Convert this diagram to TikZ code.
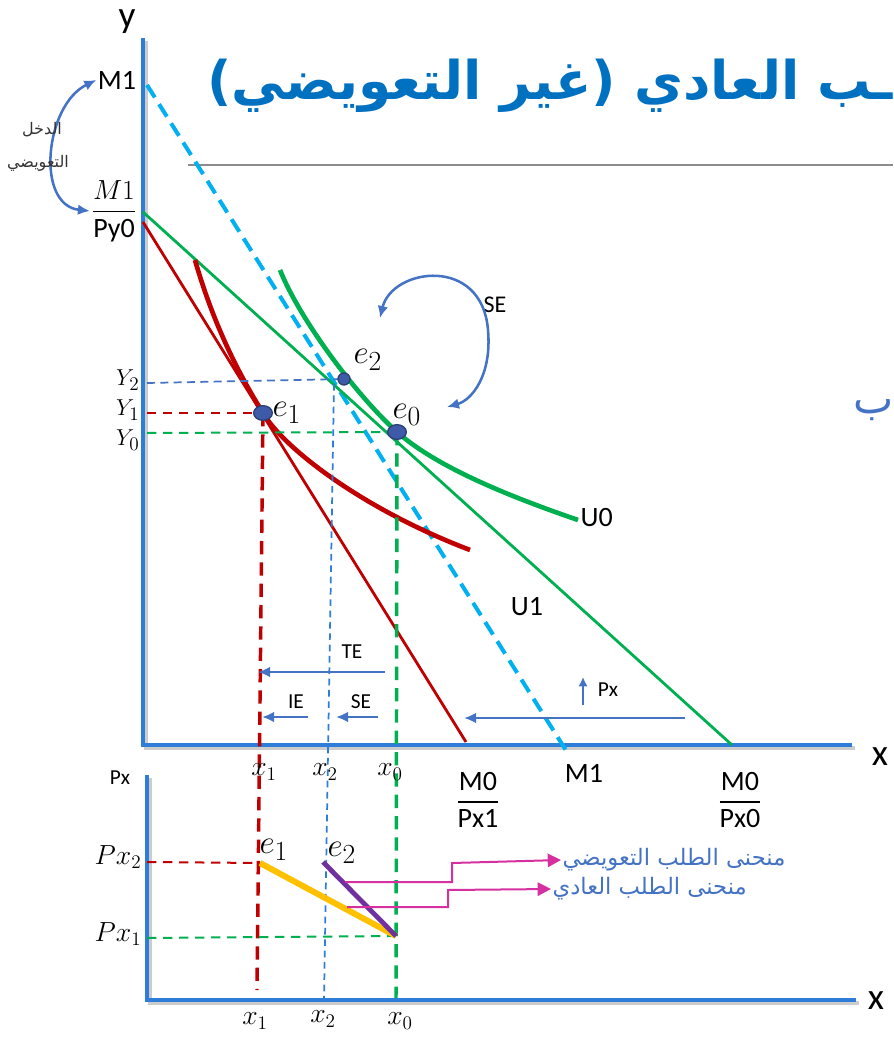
\documentclass[tikz,border=0pt]{standalone}
\usepackage{amsmath}
\usepackage{fontspec}
\setmainfont{Carlito}
\newfontfamily\arabicfont[Script=Arabic]{DejaVu Sans}
\TeXXeTstate=1
\usetikzlibrary{arrows.meta,shapes.geometric}

\definecolor{axisblue}{RGB}{46,125,216}
\definecolor{titleblue}{RGB}{0,112,192}
\definecolor{effblue}{RGB}{68,114,196}
\definecolor{dotblue}{RGB}{63,90,168}
\definecolor{bgreen}{RGB}{0,176,80}
\definecolor{bred}{RGB}{192,0,0}
\definecolor{mline}{RGB}{0,176,240}
\definecolor{gold}{RGB}{255,192,0}
\definecolor{purp}{RGB}{112,48,160}
\definecolor{pink}{RGB}{214,48,160}

\tikzset{
  axis/.style={axisblue,line width=3.6pt},
  axshadow/.style={black!20,line width=3.6pt},
  budget/.style={line width=2.1pt},
  icurve/.style={line width=3.5pt},
  guide/.style={line width=1.5pt,dash pattern=on 7pt off 5pt},
  vguide/.style={line width=2.6pt,dash pattern=on 10pt off 6pt},
  effarrow/.style={effblue,line width=1.9pt,-{Latex[length=9pt,width=8pt]}},
  dot/.style={ellipse,fill=dotblue,draw=dotblue!70!black,line width=1pt,inner sep=0pt,minimum width=14pt,minimum height=11pt},
  lbl/.style={font=\fontsize{16}{18}\selectfont,inner sep=1pt},
  biglbl/.style={font=\fontsize{21}{24}\selectfont,inner sep=1pt},
  mlbl/.style={font=\fontsize{21}{24}\selectfont,inner sep=1pt},
  elbl/.style={font=\fontsize{28}{30}\selectfont,inner sep=1pt},
  demand/.style={pink,line width=1.5pt,-{Triangle[length=10pt,width=10pt]}}
}

\begin{document}
\begin{tikzpicture}[x=0.75pt,y=-0.75pt]
\useasboundingbox (0,0) rectangle (893,1037);

% title
\node[titleblue,anchor=east,inner sep=0pt,font=\fontsize{40}{46}\selectfont] (title) at (893,86)
  {\arabicfont\bfseries\beginR ـب العادي (غير التعويضي)\endR};
\draw[black!45,line width=1.1pt] (188,165) -- (893,165);
\node[effblue,anchor=west,inner sep=0pt,font=\fontsize{32}{36}\selectfont] (cut) at (853,410) {\arabicfont\beginR ب\endR};

% key points
\coordinate (O) at (143,745);
\coordinate (ytop) at (143,38);
\coordinate (xend) at (852,745);
\coordinate (My0) at (143,212);
\coordinate (My1) at (143,222);
\coordinate (Mx0) at (732,745);
\coordinate (Mx1) at (466,742);
\coordinate (Mtop) at (147,85);
\coordinate (Mbot) at (567,752);

% upper axes
\draw[axshadow] ([shift={(3,3)}]ytop) -- ([shift={(3,3)}]O) -- ([shift={(3,3)}]xend);
\draw[axis] (ytop) -- (O) -- (xend);
\node[font=\fontsize{28}{30}\selectfont,inner sep=0pt] (ylab) at (127,22) {y};
\node[font=\fontsize{28}{30}\selectfont] (xlab) at (880,757) {x};

% budget lines
\draw[mline,line width=3pt,dash pattern=on 11pt off 6pt] (Mtop) -- (Mbot);
\draw[bgreen,budget] (My0) -- (Mx0);
\draw[bred,budget] (My1) -- (Mx1);

% equilibria
\coordinate (p0) at (397,432);
\coordinate (p1) at (263,413);
\coordinate (p2) at (344,379);

% indifference curves
\draw[bgreen,icurve] (280,270) .. controls (300,320) and (357,396) .. (p0)
  .. controls (440,470) and (520,500) .. (578,520);
\draw[bred,icurve] (195,260) .. controls (215,330) and (243,381) .. (p1)
  .. controls (283,447) and (360,508) .. (470,550);

% guide lines
\draw[effblue,line width=1.3pt,dash pattern=on 6pt off 4pt] (147,383) -- (p2);
\draw[bred,guide] (147,413) -- (p1);
\draw[bgreen,guide] (147,433) -- (p0);
\draw[axisblue,line width=1.3pt,dash pattern=on 5pt off 3.5pt] (334,384) -- (324,1000);
\draw[bred,vguide] (p1) -- (257,990);
\draw[bgreen,vguide] (p0) -- (396,1000);

\node[dot] (e0) at (p0) {};
\node[dot] (e1) at (p1) {};
\node[dot,minimum width=9pt,minimum height=9pt] (e2) at (p2) {};

% point labels
\node[elbl,anchor=west] (le2) at (352,360) {$e_2$};
\node[elbl,anchor=west] (le1) at (271,413) {$e_1$};
\node[elbl,anchor=west] (le0) at (391,415) {$e_0$};
\node[anchor=east,inner sep=1pt,font=\fontsize{19}{22}\selectfont] (Y2) at (141,380) {$Y_2$};
\node[anchor=east,inner sep=1pt,font=\fontsize{19}{22}\selectfont] (Y1) at (141,410) {$Y_1$};
\node[anchor=east,inner sep=1pt,font=\fontsize{19}{22}\selectfont] (Y0) at (141,440) {$Y_0$};
\node[biglbl,anchor=west] (U0) at (579,518) {U0};
\node[biglbl] (U1) at (527,607) {U1};

% intercept labels
\node[biglbl] (M1y) at (117,80) {M1};
\node[biglbl] (Py0) at (114,211) {$\dfrac{M1}{\text{Py0}}$};
\draw[effblue,line width=1.9pt,{Latex[length=9pt,width=8pt]}-{Latex[length=9pt,width=8pt]}]
  (M1y.west) .. controls (45,105) and (35,205) .. (Py0.west);
\node[font=\fontsize{12}{14}\selectfont,black!80] (inc1) at (42,130) {\arabicfont\beginR الدخل\endR};
\node[font=\fontsize{12}{14}\selectfont,black!80] (inc2) at (38,163) {\arabicfont\beginR التعويضي\endR};

\node[mlbl] (x1u) at (264,772) {$x_1$};
\node[mlbl] (x2u) at (325,772) {$x_2$};
\node[mlbl] (x0u) at (390,772) {$x_0$};
\node[biglbl] (M0Px1) at (478,800) {$\dfrac{\text{M0}}{\text{Px1}}$};
\node[biglbl] (M1x) at (584,773) {M1};
\node[biglbl] (M0Px0) at (740,800) {$\dfrac{\text{M0}}{\text{Px0}}$};

% substitution effect loop
\node[lbl,font=\fontsize{18}{20}\selectfont] (SEtop) at (495,305) {SE};
\draw[effblue,line width=1.9pt,{Latex[length=9pt,width=8pt]}-{Latex[length=9pt,width=8pt]}]
  (380,318) .. controls (392,268) and (482,255) .. (488,330)
  .. controls (492,375) and (472,400) .. (447,407);

% effect arrows
\coordinate (TEa) at (385,672); \coordinate (TEb) at (258,672);
\coordinate (IEa) at (308,717); \coordinate (IEb) at (262,717);
\coordinate (SEa) at (378,717); \coordinate (SEb) at (336,717);
\coordinate (Pa) at (685,718); \coordinate (Pb) at (464,718);
\coordinate (Ua) at (583,705); \coordinate (Ub) at (583,677);
\draw[effarrow] (TEa) -- (TEb);
\draw[effarrow] (IEa) -- (IEb);
\draw[effarrow] (SEa) -- (SEb);
\draw[effarrow] (Pa) -- (Pb);
\draw[effarrow,-{Latex[length=7pt,width=7pt]}] (Ua) -- (Ub);
\node[lbl] (TE) at (352,652) {TE};
\node[lbl] (IE) at (296,702) {IE};
\node[lbl] (SE) at (361,702) {SE};
\node[lbl] (Px) at (608,690) {Px};

% lower panel
\coordinate (O2) at (147,1000);
\coordinate (ytop2) at (147,775);
\coordinate (xend2) at (856,1000);
\draw[axshadow] ([shift={(3,3)}]ytop2) -- ([shift={(3,3)}]O2) -- ([shift={(3,3)}]xend2);
\draw[axis] (ytop2) -- (O2) -- (xend2);
\node[lbl] (Pxlab) at (120,778) {Px};
\node[font=\fontsize{28}{30}\selectfont] (xlab2) at (876,1001) {x};

\coordinate (d1) at (260,863);
\coordinate (d2) at (323,862);
\coordinate (d0) at (396,936);
\draw[bred,guide] (147,862) -- (d1);
\draw[bgreen,guide] (147,938) -- (d0);
\node[anchor=east,inner sep=1pt,font=\fontsize{22}{24}\selectfont] (Px2) at (143,857) {$Px_2$};
\node[anchor=east,inner sep=1pt,font=\fontsize{22}{24}\selectfont] (Px1) at (143,934) {$Px_1$};

\draw[gold,line width=4.5pt] (d1) -- (d0);
\draw[purp,line width=3.6pt] (d2) -- (d0);
\node[elbl,anchor=west] (le1b) at (258,850) {$e_1$};
\node[elbl,anchor=west] (le2b) at (326,853) {$e_2$};

\node[mlbl] (x1d) at (255,1021) {$x_1$};
\node[mlbl] (x2d) at (323,1019) {$x_2$};
\node[mlbl] (x0d) at (400,1021) {$x_0$};

% demand curve labels
\node[effblue,anchor=west,inner sep=1pt,font=\fontsize{17}{19}\selectfont] (comp) at (561,860)
  {\arabicfont\beginR منحنى الطلب التعويضي\endR};
\node[effblue,anchor=west,inner sep=1pt,font=\fontsize{17}{19}\selectfont] (ord) at (551,889)
  {\arabicfont\beginR منحنى الطلب العادي\endR};
\draw[demand] (345,882) -- (452,882) -- (452,863) -- (comp.west);
\draw[demand] (347,907) -- (448,907) -- (448,890) -- (ord.west);

\end{tikzpicture}
\end{document}
